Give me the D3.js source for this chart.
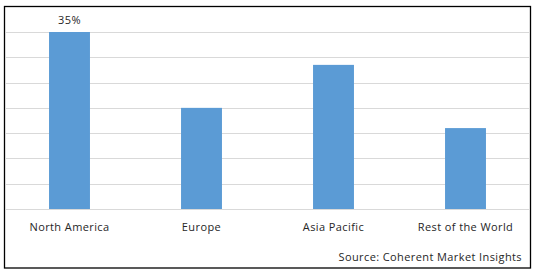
<!DOCTYPE html>
<html>
<head>
<meta charset="utf-8">
<script src="https://cdn.jsdelivr.net/npm/d3@7"></script>
<style>
  body { margin: 0; background: #fff; }
  text { font-family: "Open Sans", "DejaVu Sans", sans-serif; fill: #262626; letter-spacing: 0.4px; }
</style>
</head>
<body>
<svg id="chart" width="538" height="272"></svg>
<script>
// regions and their share (%)
const regions = ["North America", "Europe", "Asia Pacific", "Rest of the World"];
const shares = [35, 20, 28.5, 16];
const gridTicks = [0, 5, 10, 15, 20, 25, 30, 35];
const labelled = ["North America"]; // only this bar carries a value label
const source = "Source: Coherent Market Insights";

let svg = d3.select("#chart");

// outer frame
svg.append("rect")
    .attr("x", 4.5).attr("y", 6.5)
    .attr("width", 526).attr("height", 261.5)
    .attr("fill", "none")
    .attr("stroke", "#000")
    .attr("stroke-width", 1.3);

let x = d3.scaleBand().domain(regions).range([3.5, 531.5]).paddingInner(0.69).paddingOuter(0.345);
let y = d3.scaleLinear().domain([0, 35]).range([209, 32]);

// gridlines
svg.append("g")
    .selectAll("line")
    .data(gridTicks)
    .join("line")
    .attr("x1", 5).attr("x2", 530)
    .attr("y1", d => Math.round(y(d)) + 0.5)
    .attr("y2", d => Math.round(y(d)) + 0.5)
    .attr("stroke", "#d9d9d9")
    .attr("stroke-width", 1);

// bars
svg.append("g")
    .selectAll("rect")
    .data(regions)
    .join("rect")
    .attr("x", d => x(d))
    .attr("width", x.bandwidth())
    .attr("y", (d, i) => y(shares[i]))
    .attr("height", (d, i) => y(0) - y(shares[i]))
    .attr("fill", "#5b9bd5");

// value label
svg.append("g")
    .selectAll("text")
    .data(regions.filter(r => labelled.includes(r)))
    .join("text")
    .attr("x", d => x(d) + x.bandwidth() / 2)
    .attr("y", d => y(shares[regions.indexOf(d)]) - 8)
    .attr("text-anchor", "middle")
    .style("font-size", "11px")
    .text(d => shares[regions.indexOf(d)] + "%");

// category axis labels
let xAxis = d3.axisBottom(x).tickSize(0).tickPadding(0);
let ax = svg.append("g")
    .attr("transform", "translate(0,223)")
    .call(xAxis);
ax.select(".domain").remove();
ax.selectAll("text")
    .attr("dy", "0.71em")
    .style("font-size", "11px")
    .style("font-family", "\"Open Sans\", \"DejaVu Sans\", sans-serif")
    .style("letter-spacing", "0.4px")
    .attr("fill", "#262626");

// source note
svg.append("text")
    .attr("x", 522)
    .attr("y", 261)
    .attr("text-anchor", "end")
    .style("font-size", "11px")
    .text(source);
</script>
</body>
</html>
